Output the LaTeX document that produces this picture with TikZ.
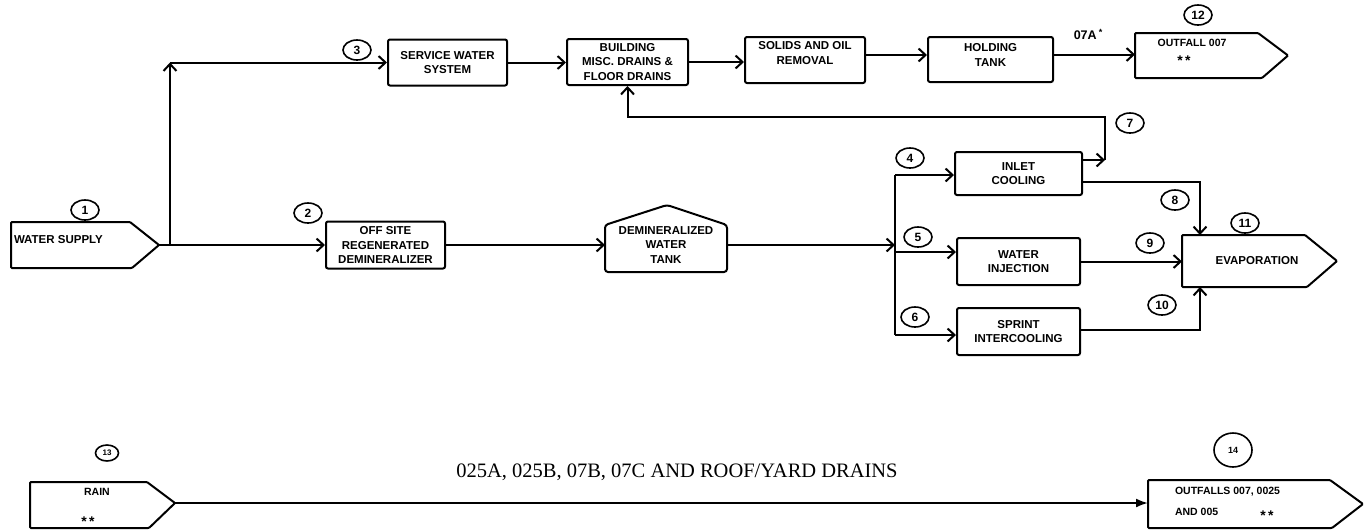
\documentclass[tikz,border=0pt]{standalone}
\usepackage{fontspec}
\setmainfont{Liberation Sans}
\newfontfamily\serifbig{Liberation Serif}
\usetikzlibrary{arrows.meta,shapes.geometric}
\newcommand\bxfont{\fontsize{11.5}{14.5}\selectfont\bfseries}
\newcommand\smfont{\fontsize{10.5}{14}\selectfont\bfseries}
\newcommand\numfont{\fontsize{12}{14}\selectfont\bfseries}
\newcommand\stars{\fontsize{14}{14}\selectfont *\,*}
\begin{document}
\begin{tikzpicture}[x=1pt,y=-1pt,line width=2pt,
  flow/.style={-{Straight Barb[length=7pt,width=13pt,line width=2pt]}},
  solidflow/.style={-{Latex[length=12pt,width=9pt]}},
  proc/.style={draw,rounded corners=2pt,align=center,inner sep=0pt,font=\bxfont},
  lbl/.style={align=center,font=\bxfont,inner sep=0pt},
  sml/.style={align=left,font=\smfont,inner sep=0pt},
  num/.style={draw,ellipse,line width=1.6pt,minimum width=28pt,minimum height=20pt,inner sep=0pt,font=\numfont},
  pent/.style={draw,rounded corners=1pt}]
\useasboundingbox (0,0) rectangle (1370,531);
\fill[white] (0,0) rectangle (1370,531);

% ---------- process boxes ----------
\node[proc,minimum width=119pt,minimum height=47pt] (off) at (385.5,245) {OFF SITE\\REGENERATED\\DEMINERALIZER};
\node[proc,minimum width=119pt,minimum height=46pt] (service) at (447.5,62.5) {SERVICE WATER\\SYSTEM};
\node[proc,minimum width=121pt,minimum height=46pt] (building) at (627.5,62) {BUILDING\\MISC. DRAINS \&\\FLOOR DRAINS};
\node[proc,minimum width=120pt,minimum height=46pt] (solids) at (805,60) {};
\node[lbl] (solidst) at (805,53) {SOLIDS AND OIL\\REMOVAL};
\node[proc,minimum width=125pt,minimum height=45pt] (holding) at (990.5,59.5) {};
\node[lbl] (holdingt) at (990.5,55) {HOLDING\\TANK};
\node[proc,minimum width=127pt,minimum height=43pt] (inlet) at (1018.5,173.5) {INLET\\COOLING};
\node[proc,minimum width=123pt,minimum height=47pt] (water) at (1018.5,261.5) {WATER\\INJECTION};
\node[proc,minimum width=123pt,minimum height=47pt] (sprint) at (1018.5,331.5) {SPRINT\\INTERCOOLING};

% ---------- tank ----------
\draw[rounded corners=3pt] (605,272) -- (605,225) -- (667,205) -- (727,225) -- (727,272) -- cycle;
\node[lbl] (tank) at (666,245) {DEMINERALIZED\\WATER\\TANK};
\coordinate (tankW) at (605,245);
\coordinate (tankE) at (727,245);

% ---------- pentagon terminals ----------
\draw[pent] (11,222) -- (130,222) -- (159,245) -- (132,268) -- (11,268) -- cycle;
\coordinate (wsout) at (159,245);
\node[lbl,anchor=west] (ws) at (13,240) {WATER SUPPLY};

\draw[pent] (1135,33) -- (1258,33) -- (1288,55.5) -- (1262,78) -- (1135,78) -- cycle;
\coordinate (ofl) at (1135,54.5);
\node[sml] (oft) at (1192,43) {OUTFALL 007};
\node[sml] (ofs) at (1184,61) {\stars};

\draw[pent] (1182,235) -- (1305,235) -- (1337,261) -- (1307,287) -- (1182,287) -- cycle;
\coordinate (evapL) at (1182,261.5);
\coordinate (evapT) at (1200,235);
\coordinate (evapB) at (1200,287);
\node[lbl] (evap) at (1257,261) {EVAPORATION};

\draw[pent] (30,482) -- (147,482) -- (175,503) -- (149,528) -- (30,528) -- cycle;
\coordinate (rainout) at (175,503);
\node[sml] (rain) at (97,492) {RAIN};
\node[sml] (rains) at (88,522) {\stars};

\draw[pent] (1148,480) -- (1330,480) -- (1363,504) -- (1332,528) -- (1148,528) -- cycle;
\coordinate (olin) at (1148,503);
\node[sml,anchor=west] (olt) at (1174,492) {OUTFALLS 007, 0025};
\node[sml,anchor=west] (olt2) at (1174,512) {AND 005};
\node[sml] (ols) at (1267,516) {\stars};

% ---------- number circles ----------
\node[num] (n1) at (85,210) {1};
\node[num] (n2) at (308,213) {2};
\node[num] (n3) at (357,50) {3};
\node[num] (n4) at (910,158) {4};
\node[num] (n5) at (918,237) {5};
\node[num] (n6) at (915,317) {6};
\node[num] (n7) at (1130,123) {7};
\node[num] (n8) at (1175,200) {8};
\node[num] (n9) at (1150,243) {9};
\node[num] (n10) at (1162,305) {10};
\node[num] (n11) at (1245,223) {11};
\node[num] (n12) at (1198,15) {12};
\node[num,minimum width=23pt,minimum height=16pt,font=\fontsize{8}{9}\selectfont\bfseries] (n13) at (107,453) {13};
\node[num,minimum width=38pt,minimum height=34pt,font=\fontsize{9}{10}\selectfont\bfseries] (n14) at (1233,450) {14};

% ---------- connectors ----------
\coordinate (split) at (170,245);
\coordinate (up) at (170,62.5);
\draw (wsout) -- (split);
\draw[flow] (split) -- (up);
\draw[flow] (up) -- (up -| service.west);
\draw[flow] (split) -- (split -| off.west);
\draw[flow] (service.east) -- (service.east -| building.west);
\draw[flow] (building.east) -- (building.east -| solids.west);
\draw[flow] ([yshift=5pt]solids.east) -- ([yshift=5pt]solids.east -| holding.west);
\draw[flow] ([yshift=5pt]holding.east) -- (ofl);
\node[font=\fontsize{12.5}{14}\selectfont\bfseries,inner sep=0pt] (lab07a) at (1088,34) {07A\,\raisebox{4pt}{\fontsize{9}{9}\selectfont *}};

\draw[flow] (off.east) -- (off.east -| tankW);
\coordinate (bmain) at (895,245);
\draw[flow] (tankE) -- (bmain);
\coordinate (btop) at (895,175);
\coordinate (bmid) at (895,252);
\coordinate (bbot) at (895,335);
\draw (btop) -- (bbot);
\draw[flow] (btop) -- (btop -| inlet.west);
\draw[flow] (bmid) -- (bmid -| water.west);
\draw[flow] (bbot) -- (bbot -| sprint.west);

\coordinate (fb) at (1105,160);
\draw[flow] (inlet.east |- fb) -- (fb);
\draw[flow] (fb) -- (1105,117) -| (building.south);

\draw[flow] ([yshift=-8.5pt]inlet.east) -| (evapT);
\draw[flow] (water.east) -- (evapL);
\draw[flow] ([yshift=1.5pt]sprint.east) -| (evapB);

\draw[solidflow] (rainout) -- (olin);
\node[font=\serifbig\fontsize{20.5}{24}\selectfont,inner sep=0pt] (drains) at (677,472) {025A, 025B, 07B, 07C AND ROOF/YARD DRAINS};
\end{tikzpicture}
\end{document}
